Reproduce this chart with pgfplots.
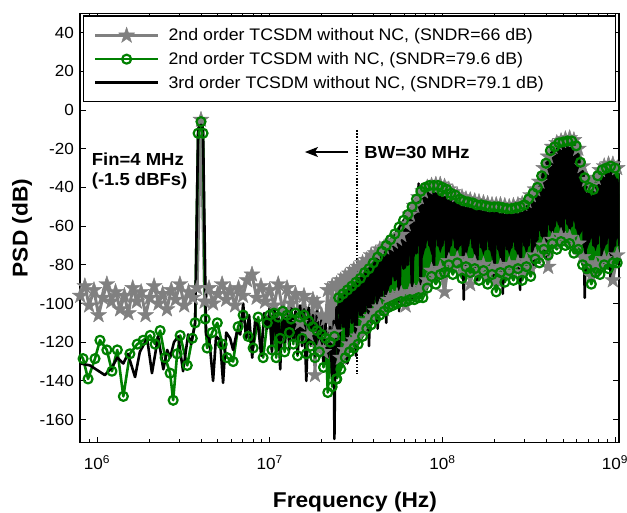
\documentclass[border=0pt]{standalone}
\usepackage{pgfplots}
\pgfplotsset{compat=1.18}
\usepackage{fontspec}
\setmainfont{Liberation Sans}[FakeStretch=1.06]
\usetikzlibrary{arrows.meta}
\definecolor{mgreen}{rgb}{0,0.5,0}
\definecolor{mgray}{rgb}{0.5,0.5,0.5}
\newcommand\tickfont{\fontsize{16.2}{19}\selectfont}
\newcommand\legfont{\fontsize{16.8}{20}\selectfont}
\newcommand\labfont{\fontsize{21.5}{25}\selectfont}
\newcommand\annfont{\fontsize{17.5}{20}\selectfont}
\pgfdeclareplotmark{fstar}{%
 \pgfpathmoveto{\pgfpointpolar{90}{\pgfplotmarksize}}%
 \pgfpathlineto{\pgfpointpolar{126}{0.382\pgfplotmarksize}}%
 \pgfpathlineto{\pgfpointpolar{162}{\pgfplotmarksize}}%
 \pgfpathlineto{\pgfpointpolar{198}{0.382\pgfplotmarksize}}%
 \pgfpathlineto{\pgfpointpolar{234}{\pgfplotmarksize}}%
 \pgfpathlineto{\pgfpointpolar{270}{0.382\pgfplotmarksize}}%
 \pgfpathlineto{\pgfpointpolar{306}{\pgfplotmarksize}}%
 \pgfpathlineto{\pgfpointpolar{342}{0.382\pgfplotmarksize}}%
 \pgfpathlineto{\pgfpointpolar{18}{\pgfplotmarksize}}%
 \pgfpathlineto{\pgfpointpolar{54}{0.382\pgfplotmarksize}}%
 \pgfpathclose
 \pgfusepathqfillstroke}
\pgfplotsset{
 graystyle/.style={color=mgray, line width=3bp, line join=round, mark=fstar, mark size=8.5bp, mark options={solid, fill=mgray, draw=mgray, line width=0.4bp}},
 greenstyle/.style={color=mgreen, line width=2.6bp, line join=round, mark=o, mark size=4.5bp, mark options={solid, line width=2.2bp}},
 blackstyle/.style={color=black, line width=2.6bp, line join=round, mark=none},
}
\begin{document}
\begin{tikzpicture}
\begin{axis}[
 scale only axis, width=539bp, height=429.5bp,
 xmode=log, xmin=7.97e5, xmax=1.055e9, ymin=-172, ymax=50,
 xtick={1e6,1e7,1e8,1e9},
 xticklabels={10\textsuperscript{6},10\textsuperscript{7},10\textsuperscript{8},10\textsuperscript{9}},
 minor xtick={8e5,9e5,2e6,3e6,4e6,5e6,6e6,7e6,8e6,9e6,2e7,3e7,4e7,5e7,6e7,7e7,8e7,9e7,2e8,3e8,4e8,5e8,6e8,7e8,8e8,9e8},
 ytick={-160,-140,-120,-100,-80,-60,-40,-20,0,20,40},
 yticklabels={-160,-140,-120,-100,-80,-60,-40,-20,0,20,40},
 tick align=inside, major tick length=6bp, minor tick length=4bp,
 axis line style={line width=1.2bp},
 every tick/.style={black, line width=0.9bp},
 x tick label style={font=\tickfont, anchor=base, inner sep=0pt, yshift=-27bp},
 y tick label style={font=\tickfont, anchor=east, inner sep=0pt, xshift=-6bp},
 xlabel={Frequency (Hz)}, ylabel={PSD (dB)},
 xlabel style={font=\bfseries\labfont, at={(axis description cs:0.51,-0.1497)}, anchor=base},
 ylabel style={font=\bfseries\labfont, at={(axis description cs:-0.1076,0.5)}, anchor=center},
 legend cell align=left,
 legend image code/.code={\draw[mark repeat=2,mark phase=2,#1] plot coordinates {(0bp,0bp) (31.5bp,0bp) (63bp,0bp)};},
 legend style={at={(axis description cs:0.0056,0.995)}, anchor=north west, draw=black, line width=1.2bp, fill=white,
   font=\legfont, inner xsep=10bp, inner ysep=11bp, row sep=8bp, column sep=8bp, nodes={inner sep=1bp}},
]
% ---------- 2nd order without NC (gray) ----------
\addplot[graystyle] coordinates {
(7.8e5,-93) (8.0e5,-96) (8.5e5,-91) (9.0e5,-101) (9.6e5,-93) (1.02e6,-106) (1.08e6,-97) (1.14e6,-90) (1.21e6,-99) (1.28e6,-94) (1.36e6,-103) (1.44e6,-96) (1.52e6,-105) (1.61e6,-92) (1.70e6,-99) (1.80e6,-94) (1.91e6,-106) (2.02e6,-97) (2.14e6,-91) (2.27e6,-100) (2.40e6,-95) (2.54e6,-103) (2.69e6,-93) (2.85e6,-98) (3.02e6,-90) (3.20e6,-101) (3.39e6,-94) (3.59e6,-97) (3.80e6,-92) (4.0e6,-5) (4.2e6,-99) (4.45e6,-92) (4.7e6,-100) (5.0e6,-95) (5.3e6,-90) (5.6e6,-98) (5.9e6,-93) (6.3e6,-101) (6.6e6,-92) (7.0e6,-96) (7.4e6,-88) (7.9e6,-85) (8.4e6,-97) (8.9e6,-91) (9.4e6,-99)
(1.00e7,-93) (1.06e7,-101) (1.12e7,-90) (1.19e7,-104) (1.26e7,-92) (1.33e7,-100) (1.41e7,-95) (1.50e7,-110) (1.58e7,-96) (1.68e7,-116) (1.78e7,-98) (1.83e7,-137) (1.88e7,-100) (1.94e7,-123) (2.00e7,-106) (2.05e7,-125) (2.11e7,-108) (2.17e7,-93) (2.24e7,-118) (2.30e7,-91) (2.37e7,-115) (2.44e7,-90)
};
\addlegendentry{2nd order TCSDM without NC, (SNDR=66 dB)}
\addplot[fill=mgray, draw=none, forget plot] coordinates {
(2.44e7,-90) (2.58e7,-88) (2.74e7,-86) (2.90e7,-84.5) (3.07e7,-82.5) (3.25e7,-81) (3.45e7,-79) (3.65e7,-77.5) (3.87e7,-75) (4.10e7,-74) (4.34e7,-72) (4.60e7,-71) (4.87e7,-69.5) (5.16e7,-68) (5.46e7,-66.5) (5.78e7,-64.5) (6.13e7,-59) (6.49e7,-54) (6.88e7,-49.5) (7.29e7,-45) (7.72e7,-42) (8.18e7,-40) (8.66e7,-39) (9.17e7,-38.5) (9.72e7,-38.5)
(1.03e8,-39.5) (1.09e8,-41) (1.15e8,-42.5) (1.22e8,-44) (1.30e8,-45) (1.37e8,-46) (1.45e8,-46.5) (1.54e8,-47) (1.63e8,-47.5) (1.73e8,-48) (1.83e8,-48.5) (1.94e8,-49) (2.05e8,-49) (2.17e8,-49) (2.30e8,-49.5) (2.44e8,-50) (2.58e8,-49.5) (2.74e8,-49) (2.90e8,-48.5) (3.07e8,-47) (3.25e8,-44) (3.45e8,-41) (3.65e8,-37) (3.87e8,-30) (4.10e8,-24) (4.34e8,-19) (4.60e8,-17) (4.87e8,-16) (5.16e8,-15) (5.46e8,-14.5) (5.78e8,-15.5) (6.13e8,-20) (6.49e8,-29) (6.88e8,-36) (7.29e8,-39) (7.72e8,-35) (8.18e8,-31) (8.66e8,-29) (9.17e8,-28) (9.72e8,-28) (1.03e9,-30) (1.09e9,-33)
(1.09e9,-68) (1.03e9,-75) (9.72e8,-88) (9.17e8,-78) (8.66e8,-77) (8.18e8,-81) (7.72e8,-80) (7.29e8,-86) (6.88e8,-79) (6.49e8,-76) (6.13e8,-69) (5.78e8,-70) (5.46e8,-66) (5.16e8,-67) (4.87e8,-65) (4.60e8,-69) (4.34e8,-67) (4.10e8,-81) (3.87e8,-70) (3.65e8,-76) (3.45e8,-75) (3.25e8,-82) (3.07e8,-78) (2.90e8,-84) (2.74e8,-79) (2.58e8,-84) (2.44e8,-80) (2.30e8,-85) (2.17e8,-81) (2.05e8,-88) (1.94e8,-82) (1.83e8,-85) (1.73e8,-80) (1.63e8,-83) (1.54e8,-79) (1.45e8,-90) (1.37e8,-78) (1.30e8,-82) (1.22e8,-77) (1.15e8,-80) (1.09e8,-78) (1.03e8,-94)
(9.72e7,-82) (9.17e7,-86) (8.66e7,-83) (8.18e7,-88) (7.72e7,-92) (7.29e7,-93) (6.88e7,-94) (6.49e7,-94) (6.13e7,-101) (5.78e7,-95) (5.46e7,-96) (5.16e7,-97) (4.87e7,-98) (4.60e7,-103) (4.34e7,-102) (4.10e7,-104) (3.87e7,-107) (3.65e7,-109) (3.45e7,-113) (3.25e7,-117) (3.07e7,-119) (2.90e7,-121) (2.74e7,-124) (2.58e7,-128)
} -- cycle;
\addplot[graystyle, forget plot] coordinates {
(2.44e7,-90) (2.58e7,-88) (2.74e7,-86) (2.90e7,-84.5) (3.07e7,-82.5) (3.25e7,-81) (3.45e7,-79) (3.65e7,-77.5) (3.87e7,-75) (4.10e7,-74) (4.34e7,-72) (4.60e7,-71) (4.87e7,-69.5) (5.16e7,-68) (5.46e7,-66.5) (5.78e7,-64.5) (6.13e7,-59) (6.49e7,-54) (6.88e7,-49.5) (7.29e7,-45) (7.72e7,-42) (8.18e7,-40) (8.66e7,-39) (9.17e7,-38.5) (9.72e7,-38.5)
(1.03e8,-39.5) (1.09e8,-41) (1.15e8,-42.5) (1.22e8,-44) (1.30e8,-45) (1.37e8,-46) (1.45e8,-46.5) (1.54e8,-47) (1.63e8,-47.5) (1.73e8,-48) (1.83e8,-48.5) (1.94e8,-49) (2.05e8,-49) (2.17e8,-49) (2.30e8,-49.5) (2.44e8,-50) (2.58e8,-49.5) (2.74e8,-49) (2.90e8,-48.5) (3.07e8,-47) (3.25e8,-44) (3.45e8,-41) (3.65e8,-37) (3.87e8,-30) (4.10e8,-24) (4.34e8,-19) (4.60e8,-17) (4.87e8,-16) (5.16e8,-15) (5.46e8,-14.5) (5.78e8,-15.5) (6.13e8,-20) (6.49e8,-29) (6.88e8,-36) (7.29e8,-39) (7.72e8,-35) (8.18e8,-31) (8.66e8,-29) (9.17e8,-28) (9.72e8,-28) (1.03e9,-30) (1.09e9,-33)
};
\addplot[graystyle, forget plot] coordinates {
(2.44e7,-90) (2.58e7,-128) (2.74e7,-124) (2.90e7,-121) (3.07e7,-119) (3.25e7,-117) (3.45e7,-113) (3.65e7,-109) (3.87e7,-107) (4.10e7,-104) (4.34e7,-102) (4.60e7,-103) (4.87e7,-98) (5.16e7,-97) (5.46e7,-96) (5.78e7,-95) (6.13e7,-101) (6.49e7,-94) (6.88e7,-94) (7.29e7,-93) (7.72e7,-92) (8.18e7,-88) (8.66e7,-83) (9.17e7,-86) (9.72e7,-82)
(1.03e8,-94) (1.09e8,-78) (1.15e8,-80) (1.22e8,-77) (1.30e8,-82) (1.37e8,-78) (1.45e8,-90) (1.54e8,-79) (1.63e8,-83) (1.73e8,-80) (1.83e8,-85) (1.94e8,-82) (2.05e8,-88) (2.17e8,-81) (2.30e8,-85) (2.44e8,-80) (2.58e8,-84) (2.74e8,-79) (2.90e8,-84) (3.07e8,-78) (3.25e8,-82) (3.45e8,-75) (3.65e8,-76) (3.87e8,-70) (4.10e8,-81) (4.34e8,-67) (4.60e8,-69) (4.87e8,-65) (5.16e8,-67) (5.46e8,-66) (5.78e8,-70) (6.13e8,-69) (6.49e8,-76) (6.88e8,-79) (7.29e8,-86) (7.72e8,-80) (8.18e8,-81) (8.66e8,-77) (9.17e8,-78) (9.72e8,-88) (1.03e9,-75) (1.09e9,-68)
};
% ---------- 2nd order with NC (green) ----------
\addplot[greenstyle] coordinates {
(7.8e5,-125) (8.3e5,-128.5) (8.87e5,-139) (9.73e5,-128.5) (1.04e6,-119) (1.14e6,-124) (1.22e6,-135) (1.31e6,-124) (1.42e6,-148) (1.55e6,-126) (1.71e6,-121) (1.85e6,-119) (2.03e6,-116.5) (2.17e6,-121) (2.32e6,-114) (2.48e6,-128) (2.65e6,-136) (2.76e6,-150) (2.91e6,-126) (3.03e6,-116.5) (3.33e6,-132) (3.56e6,-118) (3.70e6,-110) (3.85e6,-12) (4.0e6,-6) (4.11e6,-12) (4.23e6,-108) (4.34e6,-123) (4.64e6,-115) (4.97e6,-110) (5.31e6,-121) (5.67e6,-128) (6.14e6,-130) (6.56e6,-112) (7.02e6,-106) (7.5e6,-117) (8.02e6,-123) (8.58e6,-107) (9.16e6,-128) (9.68e6,-110)
(1.00e7,-106) (1.03e7,-124) (1.06e7,-105) (1.09e7,-128) (1.12e7,-107) (1.15e7,-118) (1.19e7,-104) (1.22e7,-125) (1.26e7,-106) (1.30e7,-115) (1.33e7,-108) (1.37e7,-121) (1.41e7,-105) (1.45e7,-127) (1.50e7,-107) (1.54e7,-118) (1.58e7,-106) (1.63e7,-126) (1.68e7,-109) (1.73e7,-122) (1.78e7,-112) (1.83e7,-128) (1.88e7,-114) (1.94e7,-125) (2.00e7,-116) (2.05e7,-133) (2.11e7,-118) (2.17e7,-146) (2.24e7,-120) (2.30e7,-143) (2.37e7,-117) (2.44e7,-139)
};
\addlegendentry{2nd order TCSDM with NC, (SNDR=79.6 dB)}
\addplot[fill=mgreen, draw=none, forget plot] coordinates {
(2.44e7,-139) (2.51e7,-97) (2.66e7,-95) (2.82e7,-93) (2.99e7,-91) (3.16e7,-89) (3.35e7,-87) (3.55e7,-84) (3.76e7,-82) (3.98e7,-79) (4.22e7,-76) (4.47e7,-73) (4.73e7,-70) (5.01e7,-67) (5.31e7,-64) (5.62e7,-60.5) (5.96e7,-57) (6.31e7,-54) (6.68e7,-50) (7.08e7,-46) (7.50e7,-42) (7.94e7,-40) (8.41e7,-39) (8.91e7,-39) (9.44e7,-39)
(1.00e8,-40) (1.06e8,-41) (1.12e8,-43) (1.19e8,-44) (1.26e8,-46) (1.33e8,-47) (1.41e8,-47.5) (1.50e8,-48) (1.58e8,-49) (1.68e8,-49) (1.78e8,-49.5) (1.88e8,-50) (2.00e8,-50) (2.11e8,-50) (2.24e8,-50.5) (2.37e8,-51) (2.51e8,-51) (2.66e8,-50.5) (2.82e8,-50) (2.99e8,-49) (3.16e8,-46) (3.35e8,-43) (3.55e8,-40) (3.76e8,-34) (3.98e8,-27.5) (4.22e8,-21) (4.47e8,-19) (4.73e8,-17) (5.01e8,-16.5) (5.31e8,-16) (5.62e8,-16) (5.96e8,-18.5) (6.31e8,-27) (6.68e8,-35) (7.08e8,-40) (7.50e8,-41) (7.94e8,-34) (8.41e8,-31) (8.91e8,-30) (9.44e8,-29) (1.00e9,-30) (1.06e9,-33) (1.09e9,-35)
(1.09e9,-70) (1.03e9,-79) (9.72e8,-79) (9.17e8,-82) (8.66e8,-80) (8.18e8,-85) (7.72e8,-84) (7.29e8,-90) (6.88e8,-82) (6.49e8,-80) (6.13e8,-72) (5.78e8,-74) (5.46e8,-69) (5.16e8,-70) (4.87e8,-68) (4.60e8,-72) (4.34e8,-69) (4.10e8,-75) (3.87e8,-72) (3.65e8,-79) (3.45e8,-77) (3.25e8,-86) (3.07e8,-81) (2.90e8,-88) (2.74e8,-82) (2.58e8,-88) (2.44e8,-83) (2.30e8,-89) (2.17e8,-84) (2.05e8,-94) (1.94e8,-85) (1.83e8,-90) (1.73e8,-83) (1.63e8,-88) (1.54e8,-82) (1.45e8,-84) (1.37e8,-81) (1.30e8,-87) (1.22e8,-79) (1.15e8,-85) (1.09e8,-80) (1.03e8,-84)
(9.72e7,-85) (9.17e7,-90) (8.66e7,-86) (8.18e7,-92) (7.72e7,-97) (7.29e7,-97) (6.88e7,-98) (6.49e7,-98) (6.13e7,-99) (5.78e7,-99) (5.46e7,-100) (5.16e7,-101) (4.87e7,-102) (4.60e7,-104) (4.34e7,-106) (4.10e7,-108) (3.87e7,-111) (3.65e7,-113) (3.45e7,-117) (3.25e7,-121) (3.07e7,-123) (2.90e7,-125) (2.74e7,-128) (2.58e7,-134)
} -- cycle;
\addplot[greenstyle, forget plot] coordinates {
(2.44e7,-139) (2.51e7,-97) (2.66e7,-95) (2.82e7,-93) (2.99e7,-91) (3.16e7,-89) (3.35e7,-87) (3.55e7,-84) (3.76e7,-82) (3.98e7,-79) (4.22e7,-76) (4.47e7,-73) (4.73e7,-70) (5.01e7,-67) (5.31e7,-64) (5.62e7,-60.5) (5.96e7,-57) (6.31e7,-54) (6.68e7,-50) (7.08e7,-46) (7.50e7,-42) (7.94e7,-40) (8.41e7,-39) (8.91e7,-39) (9.44e7,-39)
(1.00e8,-40) (1.06e8,-41) (1.12e8,-43) (1.19e8,-44) (1.26e8,-46) (1.33e8,-47) (1.41e8,-47.5) (1.50e8,-48) (1.58e8,-49) (1.68e8,-49) (1.78e8,-49.5) (1.88e8,-50) (2.00e8,-50) (2.11e8,-50) (2.24e8,-50.5) (2.37e8,-51) (2.51e8,-51) (2.66e8,-50.5) (2.82e8,-50) (2.99e8,-49) (3.16e8,-46) (3.35e8,-43) (3.55e8,-40) (3.76e8,-34) (3.98e8,-27.5) (4.22e8,-21) (4.47e8,-19) (4.73e8,-17) (5.01e8,-16.5) (5.31e8,-16) (5.62e8,-16) (5.96e8,-18.5) (6.31e8,-27) (6.68e8,-35) (7.08e8,-40) (7.50e8,-41) (7.94e8,-34) (8.41e8,-31) (8.91e8,-30) (9.44e8,-29) (1.00e9,-30) (1.06e9,-33) (1.09e9,-35)
};
\addplot[greenstyle, forget plot] coordinates {
(2.44e7,-139) (2.58e7,-134) (2.74e7,-128) (2.90e7,-125) (3.07e7,-123) (3.25e7,-121) (3.45e7,-117) (3.65e7,-113) (3.87e7,-111) (4.10e7,-108) (4.34e7,-106) (4.60e7,-104) (4.87e7,-102) (5.16e7,-101) (5.46e7,-100) (5.78e7,-99) (6.13e7,-99) (6.49e7,-98) (6.88e7,-98) (7.29e7,-97) (7.72e7,-97) (8.18e7,-92) (8.66e7,-86) (9.17e7,-90) (9.72e7,-85)
(1.03e8,-84) (1.09e8,-80) (1.15e8,-85) (1.22e8,-79) (1.30e8,-87) (1.37e8,-81) (1.45e8,-84) (1.54e8,-82) (1.63e8,-88) (1.73e8,-83) (1.83e8,-90) (1.94e8,-85) (2.05e8,-94) (2.17e8,-84) (2.30e8,-89) (2.44e8,-83) (2.58e8,-88) (2.74e8,-82) (2.90e8,-88) (3.07e8,-81) (3.25e8,-86) (3.45e8,-77) (3.65e8,-79) (3.87e8,-72) (4.10e8,-75) (4.34e8,-69) (4.60e8,-72) (4.87e8,-68) (5.16e8,-70) (5.46e8,-69) (5.78e8,-74) (6.13e8,-72) (6.49e8,-80) (6.88e8,-82) (7.29e8,-90) (7.72e8,-84) (8.18e8,-85) (8.66e8,-80) (9.17e8,-82) (9.72e8,-79) (1.03e9,-79) (1.09e9,-70)
};
% ---------- 3rd order without NC (black) ----------
\addplot[fill=black, draw=none, forget plot] coordinates {
(2.44e7,-102) (2.58e7,-97) (2.74e7,-95) (2.90e7,-93) (3.07e7,-91) (3.25e7,-87) (3.45e7,-86) (3.65e7,-82) (3.87e7,-81) (4.10e7,-77) (4.34e7,-75) (4.60e7,-72) (4.87e7,-68) (5.16e7,-66) (5.46e7,-62) (5.78e7,-58) (6.13e7,-55) (6.49e7,-51) (6.88e7,-47) (7.29e7,-38) (7.72e7,-40) (8.18e7,-42) (8.66e7,-43) (9.17e7,-43) (9.72e7,-45)
(1.03e8,-45) (1.09e8,-47) (1.15e8,-47) (1.22e8,-48) (1.30e8,-49) (1.37e8,-48) (1.45e8,-50) (1.54e8,-50) (1.63e8,-51) (1.73e8,-52) (1.83e8,-52) (1.94e8,-53) (2.05e8,-52) (2.17e8,-54) (2.30e8,-52) (2.44e8,-53) (2.58e8,-52) (2.74e8,-54) (2.90e8,-51) (3.07e8,-50) (3.25e8,-47) (3.45e8,-44) (3.65e8,-38) (3.87e8,-29) (4.10e8,-23) (4.34e8,-20) (4.60e8,-19) (4.87e8,-17) (5.16e8,-16) (5.46e8,-15) (5.78e8,-18) (6.13e8,-23) (6.49e8,-30) (6.88e8,-38) (7.29e8,-45) (7.72e8,-39) (8.18e8,-34) (8.66e8,-32) (9.17e8,-31) (9.72e8,-32) (1.03e9,-36) (1.09e9,-40)
(1.09e9,-72) (1.03e9,-66) (9.72e8,-74) (9.17e8,-66) (8.66e8,-72) (8.18e8,-64) (7.72e8,-73) (7.29e8,-66) (6.88e8,-72) (6.49e8,-62) (6.13e8,-66) (5.78e8,-57) (5.46e8,-63) (5.16e8,-56) (4.87e8,-63) (4.60e8,-57) (4.34e8,-65) (4.10e8,-59) (3.87e8,-68) (3.65e8,-62) (3.45e8,-72) (3.25e8,-65) (3.07e8,-75) (2.90e8,-66) (2.74e8,-76) (2.58e8,-68) (2.44e8,-75) (2.30e8,-67) (2.17e8,-78) (2.05e8,-68) (1.94e8,-77) (1.83e8,-67) (1.73e8,-75) (1.63e8,-68) (1.54e8,-76) (1.45e8,-66) (1.37e8,-77) (1.30e8,-67) (1.22e8,-74) (1.15e8,-66) (1.09e8,-75) (1.03e8,-67)
(9.72e7,-74) (9.17e7,-66) (8.66e7,-75) (8.18e7,-67) (7.72e7,-76) (7.29e7,-70) (6.88e7,-76) (6.49e7,-75) (6.13e7,-82) (5.78e7,-80) (5.46e7,-88) (5.16e7,-86) (4.87e7,-93) (4.60e7,-91) (4.34e7,-99) (4.10e7,-96) (3.87e7,-103) (3.65e7,-100) (3.45e7,-107) (3.25e7,-104) (3.07e7,-110) (2.90e7,-107) (2.74e7,-113) (2.58e7,-110)
} -- cycle;
\addplot[blackstyle] coordinates {
(7.8e5,-131) (8.0e5,-131) (9.1e5,-132) (1.11e6,-137) (1.22e6,-133) (1.31e6,-128) (1.42e6,-131) (1.51e6,-126) (1.66e6,-138) (1.77e6,-125) (1.95e6,-118) (2.08e6,-136) (2.26e6,-117) (2.42e6,-134) (2.55e6,-124) (2.65e6,-128) (2.79e6,-120) (2.95e6,-117) (3.15e6,-135) (3.37e6,-116) (3.51e6,-121) (3.70e6,-110) (3.85e6,-10) (4.0e6,-5) (4.11e6,-10) (4.28e6,-116) (4.46e6,-118) (4.70e6,-140) (4.89e6,-117) (5.16e6,-119) (5.37e6,-141) (5.6e6,-115) (5.9e6,-118) (6.14e6,-124) (6.48e6,-114) (6.75e6,-116) (7.02e6,-100) (7.3e6,-118) (7.6e6,-106) (7.92e6,-128) (8.25e6,-108) (8.58e6,-112) (8.93e6,-127) (9.29e6,-105) (9.68e6,-113)
(1.00e7,-102) (1.03e7,-125) (1.06e7,-100) (1.09e7,-118) (1.12e7,-104) (1.15e7,-134) (1.19e7,-101) (1.22e7,-120) (1.26e7,-103) (1.30e7,-124) (1.33e7,-99) (1.37e7,-119) (1.41e7,-104) (1.45e7,-126) (1.50e7,-101) (1.54e7,-122) (1.58e7,-103) (1.63e7,-140) (1.68e7,-102) (1.73e7,-121) (1.78e7,-106) (1.83e7,-127) (1.88e7,-104) (1.94e7,-123) (2.00e7,-108) (2.05e7,-130) (2.11e7,-110) (2.17e7,-128) (2.24e7,-112) (2.30e7,-138) (2.35e7,-109) (2.37e7,-170) (2.40e7,-125) (2.44e7,-102)
(2.51e7,-128) (2.58e7,-97) (2.66e7,-112) (2.74e7,-95) (2.82e7,-131) (2.90e7,-93) (2.99e7,-110) (3.07e7,-91) (3.16e7,-127) (3.25e7,-87) (3.35e7,-106) (3.45e7,-86) (3.55e7,-104) (3.65e7,-82) (3.76e7,-122) (3.87e7,-81) (3.98e7,-100) (4.10e7,-77) (4.22e7,-113) (4.34e7,-75) (4.47e7,-96) (4.60e7,-72) (4.73e7,-110) (4.87e7,-68) (5.01e7,-90) (5.16e7,-66) (5.31e7,-88) (5.46e7,-62) (5.62e7,-104) (5.78e7,-58) (5.96e7,-82) (6.13e7,-55) (6.31e7,-80) (6.49e7,-51) (6.68e7,-97) (6.88e7,-47) (7.08e7,-74) (7.29e7,-38) (7.50e7,-93) (7.72e7,-40) (7.94e7,-71) (8.18e7,-42) (8.41e7,-70) (8.66e7,-43) (8.91e7,-86) (9.17e7,-43) (9.44e7,-70) (9.72e7,-45)
(1.00e8,-70) (1.03e8,-45) (1.06e8,-80) (1.09e8,-47) (1.12e8,-70) (1.15e8,-47) (1.19e8,-71) (1.22e8,-48) (1.26e8,-70) (1.30e8,-49) (1.33e8,-98) (1.37e8,-48) (1.41e8,-70) (1.45e8,-50) (1.50e8,-71) (1.54e8,-50) (1.58e8,-88) (1.63e8,-51) (1.68e8,-71) (1.73e8,-52) (1.78e8,-72) (1.83e8,-52) (1.88e8,-72) (1.94e8,-53) (2.00e8,-86) (2.05e8,-52) (2.11e8,-72) (2.17e8,-54) (2.24e8,-95) (2.30e8,-52) (2.37e8,-72) (2.44e8,-53) (2.51e8,-71) (2.58e8,-52) (2.66e8,-72) (2.74e8,-54) (2.82e8,-93) (2.90e8,-51) (2.99e8,-70) (3.07e8,-50) (3.16e8,-70) (3.25e8,-47) (3.35e8,-84) (3.45e8,-44) (3.55e8,-67) (3.65e8,-38) (3.76e8,-65) (3.87e8,-29) (3.98e8,-76) (4.10e8,-23) (4.22e8,-62) (4.34e8,-20) (4.47e8,-60) (4.60e8,-19) (4.73e8,-59) (4.87e8,-17) (5.01e8,-69) (5.16e8,-16) (5.31e8,-59) (5.46e8,-15) (5.62e8,-60) (5.78e8,-18) (5.96e8,-61) (6.13e8,-23) (6.31e8,-63) (6.49e8,-30) (6.68e8,-97) (6.88e8,-38) (7.08e8,-68) (7.29e8,-45) (7.50e8,-70) (7.72e8,-39) (7.94e8,-69) (8.18e8,-34) (8.41e8,-82) (8.66e8,-32) (8.91e8,-69) (9.17e8,-31) (9.44e8,-90) (9.72e8,-32) (1.00e9,-70) (1.03e9,-36) (1.06e9,-70) (1.09e9,-40)
};
\addlegendentry{3rd order TCSDM without NC, (SNDR=79.1 dB)\rule{61bp}{0bp}}
% ---------- annotations ----------
\draw[black, line width=1.6bp, dash pattern=on 1.6bp off 1.6bp] (axis cs:3.21e7,-10.3) -- (axis cs:3.21e7,-136.6);
\draw[black, line width=1.2bp, -{Stealth[length=13bp,width=10bp,inset=3bp]}] (axis cs:2.85e7,-21.7) -- (axis cs:1.6e7,-21.7);
\node[anchor=base west, inner sep=0pt, font=\bfseries\annfont] at (axis cs:3.53e7,-24.8) {BW=30 MHz};
\node[anchor=base west, inner sep=0pt, font=\bfseries\annfont] at (axis cs:9.31e5,-28.5) {Fin=4 MHz};
\node[anchor=base west, inner sep=0pt, font=\bfseries\annfont] at (axis cs:9.31e5,-38.8) {(-1.5 dBFs)};
\end{axis}
\pgfresetboundingbox
\path[use as bounding box] ([shift={(-80bp,-69.3bp)}]current axis.south west) rectangle ([shift={(8bp,13.3bp)}]current axis.north east);
\end{tikzpicture}
\end{document}
